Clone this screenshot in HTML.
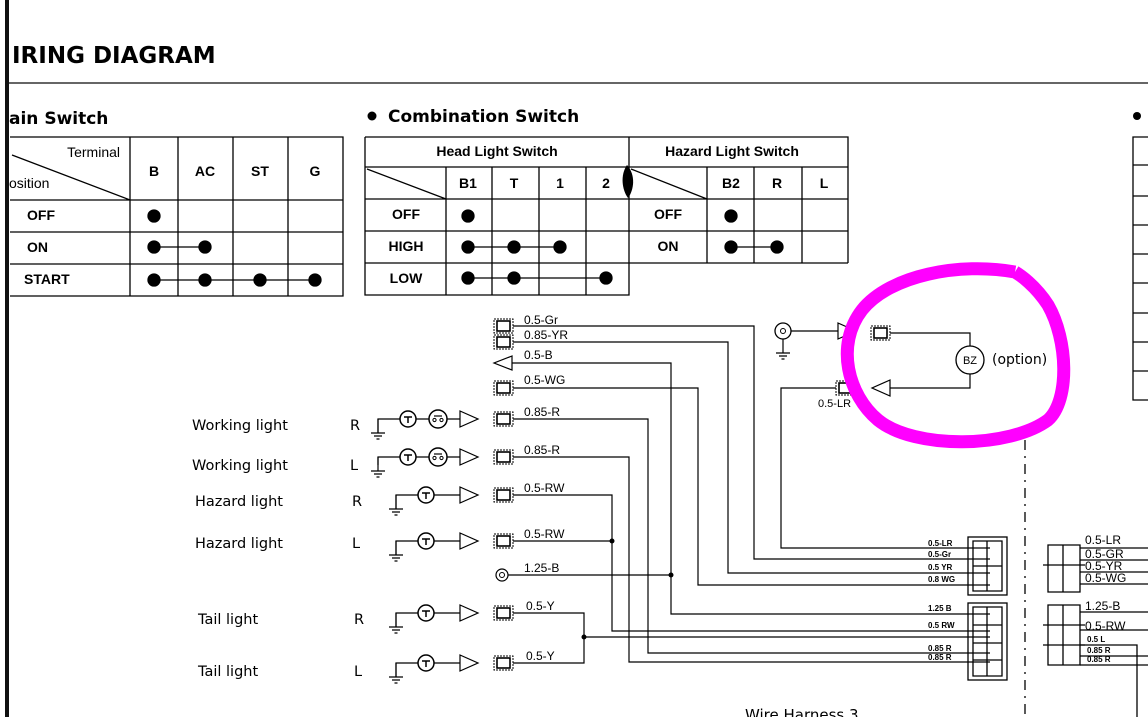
<!DOCTYPE html>
<html><head><meta charset="utf-8"><style>
html,body{margin:0;padding:0;background:#fff;}
svg{display:block;font-family:"Liberation Sans",sans-serif;}
.b{font-weight:bold;}
.d{font-family:"DejaVu Sans",sans-serif;}
</style></head><body>
<svg width="1148" height="717" viewBox="0 0 1148 717" xmlns="http://www.w3.org/2000/svg">
<defs>
<g id="con"><rect x="0" y="-7" width="19" height="14" fill="none" stroke="#000" stroke-width="1" stroke-dasharray="2,1"/><rect x="3" y="-5" width="13" height="10" fill="none" stroke="#000" stroke-width="1.6"/></g>
<g id="arr"><path d="M0,-8 L18,0 L0,8 Z" fill="#fff" stroke="#000" stroke-width="1.2"/></g>
<g id="gnd"><path d="M0,0 V14 M-7,14 H7 M-4,17 H4 M-1.5,20 H1.5" stroke="#000" stroke-width="1.2" fill="none"/></g>
<g id="lamp"><circle r="8" fill="#fff" stroke="#000" stroke-width="1.5"/><path d="M-4,-2 H4 M0,-2 V4" stroke="#000" stroke-width="1.5"/></g>
<g id="lamp2"><circle r="9" fill="#fff" stroke="#000" stroke-width="1.5"/><path d="M-4,-3 H4" stroke="#000" stroke-width="1.2"/><circle cx="-3.5" cy="1" r="1.6" fill="none" stroke="#000"/><circle cx="3.5" cy="1" r="1.6" fill="none" stroke="#000"/></g>
</defs>
<rect x="5" y="0" width="4" height="717" fill="#111"/>
<text x="12" y="63" font-size="23" class="b d">IRING  DIAGRAM</text>
<line x1="9" y1="83" x2="1148" y2="83" stroke="#333" stroke-width="1.5"/>

<!-- Main switch -->
<text x="9" y="124" font-size="17" class="d" font-weight="600">ain Switch</text>
<g stroke="#000" stroke-width="1.3" fill="none">
<path d="M10,137 H343 V296 H10 M10,200 H343 M10,232 H343 M10,264 H343 M130,137 V296 M178,137 V296 M233,137 V296 M288,137 V296 M12,155 L130,200"/>
</g>
<g font-size="14"><text x="120" y="157" text-anchor="end">Terminal</text><text x="9" y="188">osition</text></g>
<g font-size="14" class="b"><text x="154" y="176" text-anchor="middle">B</text><text x="205" y="176" text-anchor="middle">AC</text><text x="260" y="176" text-anchor="middle">ST</text><text x="315" y="176" text-anchor="middle">G</text>
<text x="27" y="220">OFF</text><text x="27" y="252">ON</text><text x="24" y="284">START</text></g>
<g fill="#000" stroke="#000" stroke-width="1.3">
<circle cx="154" cy="216" r="6"/>
<line x1="154" y1="247" x2="205" y2="247"/><circle cx="154" cy="247" r="6"/><circle cx="205" cy="247" r="6"/>
<line x1="154" y1="280" x2="315" y2="280"/><circle cx="154" cy="280" r="6"/><circle cx="205" cy="280" r="6"/><circle cx="260" cy="280" r="6"/><circle cx="315" cy="280" r="6"/>
</g>

<!-- Combination switch -->
<circle cx="372" cy="116" r="4.5"/>
<text x="388" y="122" font-size="17" class="d" font-weight="600">Combination Switch</text>
<g stroke="#000" stroke-width="1.3" fill="none">
<path d="M365,137 H848 V263 M365,137 V295 H629 V137 M365,167 H848 M365,199 H848 M365,231 H848 M365,263 H848 M446,167 V295 M492,167 V295 M539,167 V295 M586,167 V295 M707,167 V263 M754,167 V263 M802,167 V263 M367,169 L446,199 M631,169 L707,199"/>
</g>
<path d="M627,165 C620,175 622,190 628,198 C634,190 636,175 627,165 Z" fill="#000"/>
<g font-size="14" class="b" text-anchor="middle">
<text x="497" y="156">Head Light Switch</text><text x="732" y="156">Hazard Light Switch</text>
<text x="468" y="188">B1</text><text x="514" y="188">T</text><text x="560" y="188">1</text><text x="606" y="188">2</text>
<text x="731" y="188">B2</text><text x="777" y="188">R</text><text x="824" y="188">L</text>
<text x="406" y="219">OFF</text><text x="406" y="251">HIGH</text><text x="406" y="283">LOW</text>
<text x="668" y="219">OFF</text><text x="668" y="251">ON</text>
</g>
<g fill="#000" stroke="#000" stroke-width="1.3">
<circle cx="468" cy="216" r="6"/>
<line x1="468" y1="247" x2="560" y2="247"/><circle cx="468" cy="247" r="6"/><circle cx="514" cy="247" r="6"/><circle cx="560" cy="247" r="6"/>
<line x1="468" y1="278" x2="606" y2="278"/><circle cx="468" cy="278" r="6"/><circle cx="514" cy="278" r="6"/><circle cx="606" cy="278" r="6"/>
<circle cx="731" cy="216" r="6"/>
<line x1="731" y1="247" x2="777" y2="247"/><circle cx="731" cy="247" r="6"/><circle cx="777" cy="247" r="6"/>
</g>

<!-- right edge table -->
<circle cx="1137" cy="116" r="4" fill="#000"/>
<g stroke="#000" stroke-width="1.3" fill="none">
<path d="M1148,137 H1133 V400 H1148 M1133,165 H1148 M1133,196 H1148 M1133,225 H1148 M1133,254 H1148 M1133,283 H1148 M1133,313 H1148 M1133,342 H1148 M1133,371 H1148"/>
</g>

<!-- left components -->
<g font-size="14.5" class="d">
<text x="192" y="430">Working light</text><text x="350" y="430">R</text>
<text x="192" y="470">Working light</text><text x="350" y="470">L</text>
<text x="195" y="506">Hazard light</text><text x="352" y="506">R</text>
<text x="195" y="548">Hazard light</text><text x="352" y="548">L</text>
<text x="198" y="624">Tail light</text><text x="354" y="624">R</text>
<text x="198" y="676">Tail light</text><text x="354" y="676">L</text>
</g>
<g stroke="#000" stroke-width="1.2" fill="none">
<path d="M378,433 V419 H460 M378,465 V457 H460 M396,509 V495 H460 M396,555 V541 H460 M396,627 V613 H460 M396,677 V663 H460"/>
</g>
<use href="#gnd" x="378" y="419"/><use href="#gnd" x="378" y="457"/>
<use href="#gnd" x="396" y="495"/><use href="#gnd" x="396" y="541"/><use href="#gnd" x="396" y="613"/><use href="#gnd" x="396" y="663"/>
<use href="#lamp" x="408" y="419"/><use href="#lamp2" x="438" y="419"/>
<use href="#lamp" x="408" y="457"/><use href="#lamp2" x="438" y="457"/>
<use href="#lamp" x="426" y="495"/><use href="#lamp" x="426" y="541"/><use href="#lamp" x="426" y="613"/><use href="#lamp" x="426" y="663"/>
<use href="#arr" x="460" y="419"/><use href="#arr" x="460" y="457"/><use href="#arr" x="460" y="495"/><use href="#arr" x="460" y="541"/><use href="#arr" x="460" y="613"/><use href="#arr" x="460" y="663"/>

<!-- connectors column -->
<use href="#con" x="494" y="326"/><use href="#con" x="494" y="342"/>
<path d="M512,356 L494,363 L512,370 Z" fill="#fff" stroke="#000" stroke-width="1.2"/>
<use href="#con" x="494" y="388"/><use href="#con" x="494" y="419"/><use href="#con" x="494" y="457"/>
<use href="#con" x="494" y="495"/><use href="#con" x="494" y="541"/><use href="#con" x="494" y="613"/><use href="#con" x="494" y="663"/>
<circle cx="502" cy="575" r="6" fill="none" stroke="#000" stroke-width="1.2"/><circle cx="502" cy="575" r="2.5" fill="none" stroke="#000"/>
<g font-size="12">
<text x="524" y="324">0.5-Gr</text><text x="524" y="339">0.85-YR</text><text x="524" y="359">0.5-B</text>
<text x="524" y="384">0.5-WG</text><text x="524" y="416">0.85-R</text><text x="524" y="454">0.85-R</text>
<text x="524" y="492">0.5-RW</text><text x="524" y="538">0.5-RW</text><text x="524" y="572">1.25-B</text>
<text x="526" y="610">0.5-Y</text><text x="526" y="660">0.5-Y</text>
</g>
<!-- wires -->
<g stroke="#000" stroke-width="1.2" fill="none">
<path d="M513,326 H754 V559 H990"/>
<path d="M513,342 H728 V573 H990"/>
<path d="M512,363 H671 V614 H990"/>
<path d="M513,388 H698 V585 H990"/>
<path d="M513,419 H648 V653 H990"/>
<path d="M513,457 H629 V662 H990"/>
<path d="M513,495 H612 V631 H990"/>
<path d="M513,541 H612"/>
<path d="M508,575 H671"/>
<path d="M513,613 H584 V663 H513 M584,637 H990"/>
<path d="M836,388 H781 V548 H990"/>
</g>
<g fill="#000"><circle cx="612" cy="541" r="2.5"/><circle cx="671" cy="575" r="2.5"/><circle cx="584" cy="637" r="2.5"/></g>

<!-- harness connectors -->
<g stroke="#000" stroke-width="1.3" fill="none">
<rect x="968" y="537" width="39" height="58"/>
<path d="M973,541 H1002 V591 H973 Z M987,541 V591 M973,566 H1002"/>
<rect x="968" y="603" width="39" height="77"/>
<path d="M973,607 H1002 V676 H973 Z M987,607 V676 M973,625 H1002 M973,643 H1002 M973,660 H1002"/>
</g>
<g font-size="8" class="b">
<text x="928" y="546">0.5-LR</text><text x="928" y="557">0.5-Gr</text><text x="928" y="570">0.5 YR</text><text x="928" y="582">0.8 WG</text>
<text x="928" y="611">1.25 B</text><text x="928" y="628">0.5 RW</text><text x="928" y="651">0.85 R</text><text x="928" y="660">0.85 R</text>
</g>
<path d="M1025,440 V717" stroke="#000" stroke-width="1.3" stroke-dasharray="10,6,2,6"/>
<g stroke="#000" stroke-width="1.3" fill="none">
<path d="M1048,545 H1080 V592 H1048 Z M1063,545 V592 M1043,565 H1085"/>
<path d="M1048,605 H1080 V665 H1048 Z M1063,605 V665 M1043,625 H1085 M1043,645 H1085"/>
<path d="M1080,548 H1148 M1080,560 H1148 M1080,572 H1148 M1080,584 H1148 M1080,612 H1148 M1080,630 H1148 M1080,645 H1137 V717 M1080,656 H1148 M1080,665 H1148"/>
</g>
<g font-size="12">
<text x="1085" y="544">0.5-LR</text><text x="1085" y="558">0.5-GR</text><text x="1085" y="570">0.5-YR</text><text x="1085" y="582">0.5-WG</text>
<text x="1085" y="610">1.25-B</text><text x="1085" y="630">0.5-RW</text>
</g>
<g font-size="8" class="b"><text x="1087" y="642">0.5 L</text><text x="1087" y="653">0.85 R</text><text x="1087" y="662">0.85 R</text></g>

<!-- buzzer -->
<circle cx="783" cy="331" r="8" fill="none" stroke="#000" stroke-width="1.3"/><circle cx="783" cy="331" r="2.5" fill="none" stroke="#000"/>
<use href="#gnd" x="783" y="339"/>
<g stroke="#000" stroke-width="1.2" fill="none"><path d="M791,331 H838 M890,333 H970 V346 M970,374 V388 H890"/></g>
<use href="#arr" x="838" y="331"/>
<use href="#con" x="871" y="333"/>
<use href="#con" x="836" y="388"/>
<path d="M890,380 L872,388 L890,396 Z" fill="#fff" stroke="#000" stroke-width="1.2"/>
<circle cx="970" cy="360" r="14" fill="#fff" stroke="#000" stroke-width="1.3"/>
<text x="970" y="364" font-size="11" text-anchor="middle">BZ</text>
<text x="992" y="364" font-size="14" class="d">(option)</text>
<text x="818" y="407" font-size="11">0.5-LR</text>
<path d="M1015,272 C960,262 890,275 862,310 C835,345 848,395 878,420 C915,450 1010,448 1048,420 C1070,400 1068,340 1048,305 C1035,285 1020,275 1015,272" fill="none" stroke="#ff00ff" stroke-width="13"/>

<text x="745" y="720" font-size="15" class="d">Wire Harness 3</text>
</svg>
</body></html>
